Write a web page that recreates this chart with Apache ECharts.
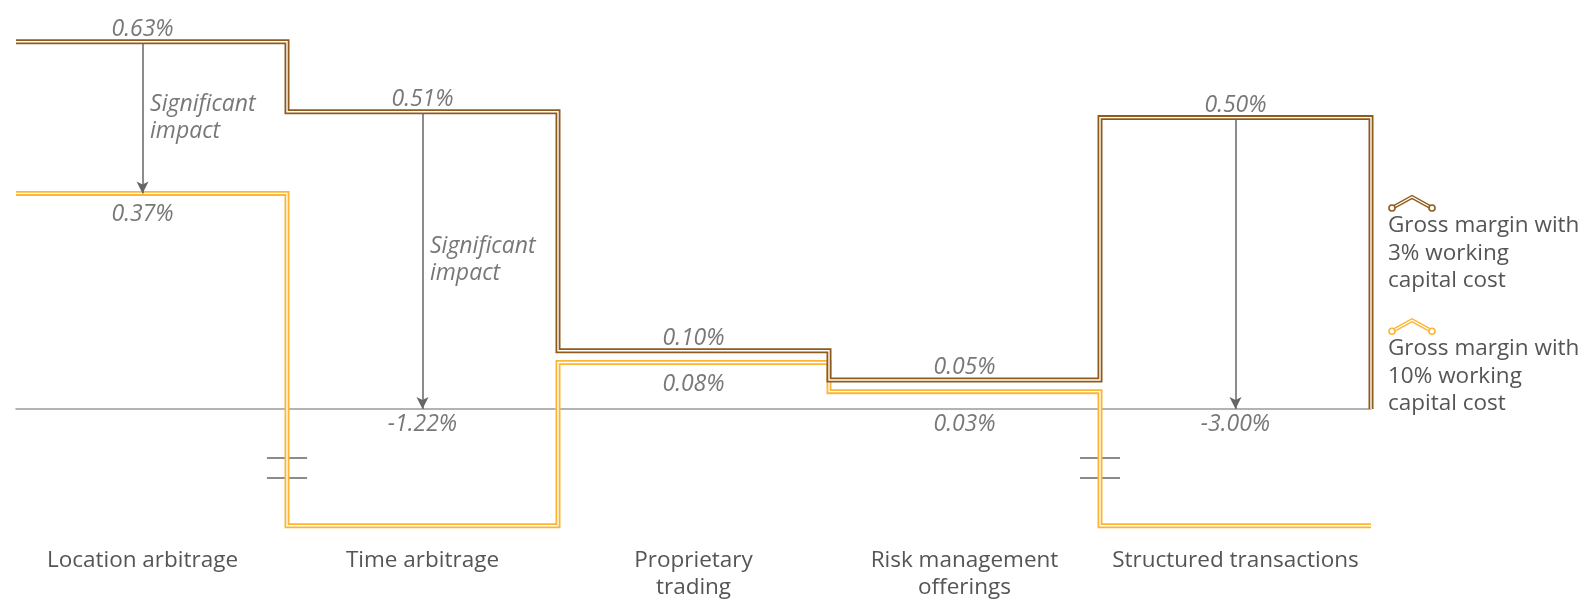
<!DOCTYPE html>
<html>
<head>
<meta charset="utf-8">
<script src="https://cdn.jsdelivr.net/npm/echarts@6/dist/echarts.min.js"></script>
<style>
html,body{margin:0;padding:0;background:#fff;}
#chart{width:1584px;height:599px;}
</style>
</head>
<body>
<div id="chart"></div>
<script>
// ---- data ----
const categories = ['Location arbitrage', 'Time arbitrage', 'Proprietary\ntrading', 'Risk management\nofferings', 'Structured transactions'];
const margin3 = [0.63, 0.51, 0.10, 0.05, 0.50];     // gross margin, 3% working capital cost (%)
const margin10 = [0.37, -1.22, 0.08, 0.03, -3.00];  // gross margin, 10% working capital cost (%)
const seriesNames = ['Gross margin with 3% working capital cost', 'Gross margin with 10% working capital cost'];
const legendLines = [['Gross margin with', '3% working', 'capital cost'], ['Gross margin with', '10% working', 'capital cost']];
const impactIdx = [0, 1, 4];
const impactNotes = ['Significant\nimpact', 'Significant\nimpact', ''];

// ---- style ----
const BROWN = '#8f5b1c';
const YELLOW = '#fdb533';
const TEXT = '#555555';
const FONT = "'Open Sans', 'Noto Sans', sans-serif";
const AXIS_FLOOR = -0.2;   // broken axis: values below are drawn at this level
const BREAK_Y = [-0.084, -0.118];
const BREAK_HALF = 0.074;
const FIRST_COL_SHIFT = -0.033; // first column annotations sit slightly left of centre

const clip = v => Math.max(v, AXIS_FLOOR);
const fmt = v => v.toFixed(2) + '%';
const colX = i => i + 0.5 + (i === 0 ? FIRST_COL_SHIFT : 0);

function stepData(vals, tail) {
  const pts = vals.map((v, i) => [i, clip(v)]);
  pts.push([vals.length, tail]);
  return pts;
}
const brownPts = stepData(margin3, 0);
const yellowPts = stepData(margin10, clip(margin10[margin10.length - 1]));

function lineSeries(name, data, color, width, z, extra) {
  return Object.assign({
    name: name, type: 'line', xAxisIndex: 1, yAxisIndex: 0,
    data: data, step: 'end', symbol: 'none', showSymbol: false, z: z,
    lineStyle: { color: color, width: width, join: 'miter', cap: 'butt' },
    itemStyle: { color: color },
    emphasis: { disabled: true }, silent: true
  }, extra || {});
}

// break marks where the 10% line falls below the axis break
const breakLines = [];
margin10.forEach((v, i) => {
  if (v < AXIS_FLOOR) {
    BREAK_Y.forEach(y => {
      breakLines.push([{ coord: [i - BREAK_HALF, y] }, { coord: [i + BREAK_HALF, y] }]);
    });
  }
});

// impact arrows
const arrows = impactIdx.map(i => [
  { coord: [colX(i), margin3[i]], symbol: 'none' },
  { coord: [colX(i), Math.max(margin10[i], 0)], symbol: 'arrow' }
]);

const labelBase = { color: TEXT, fontFamily: FONT, fontSize: 23, fontStyle: 'italic', lineHeight: 24 };

const brownLabels = margin3.map((v, i) => ({
  value: [colX(i), v],
  label: Object.assign({ show: true, position: 'top', distance: 0, formatter: fmt(v) }, labelBase)
}));
const yellowLabels = margin10.map((v, i) => {
  const nearAxis = v < 0.05;
  return {
    value: [colX(i), nearAxis ? 0 : v],
    label: Object.assign({ show: true, position: 'bottom', distance: nearAxis ? 3 : 9, formatter: fmt(v) }, labelBase)
  };
});
const noteLabels = impactIdx.map((i, k) => ({
  value: [colX(i), (margin3[i] + Math.max(margin10[i], 0)) / 2],
  label: Object.assign({ show: !!impactNotes[k], position: 'right', distance: 7, align: 'left', formatter: impactNotes[k] }, labelBase, { lineHeight: 27 })
}));

function iconUrl(color) {
  const svg = "<svg xmlns='http://www.w3.org/2000/svg' width='48' height='19'>" +
    "<polyline points='4,15 24,4 44,15' fill='none' stroke='" + color + "' stroke-width='3.8' stroke-linejoin='miter'/>" +
    "<polyline points='4,15 24,4 44,15' fill='none' stroke='#fff' stroke-width='1.2'/>" +
    "<circle cx='4' cy='15' r='3' fill='#fff' stroke='" + color + "' stroke-width='1.6'/>" +
    "<circle cx='44' cy='15' r='3' fill='#fff' stroke='" + color + "' stroke-width='1.6'/></svg>";
  return 'data:image/svg+xml;charset=utf-8,' + encodeURIComponent(svg);
}

function labelScatter(name, data) {
  return {
    name: name, type: 'scatter', xAxisIndex: 1, yAxisIndex: 0, data: data,
    symbolSize: 1, itemStyle: { color: 'rgba(0,0,0,0)' }, z: 10, silent: true,
    emphasis: { disabled: true }
  };
}

const categoryData = categories.map((c, i) => i === 0
  ? { value: c, textStyle: { padding: [0, 18, 0, 0] } }
  : c);

const chart = echarts.init(document.getElementById('chart'), null, { renderer: 'canvas' });
chart.setOption({
  animation: false,
  backgroundColor: '#fff',
  grid: { left: 16, right: 213, top: 1, bottom: 58.7, containLabel: false, outerBoundsMode: 'none' },
  xAxis: [
    {
      type: 'category', data: categoryData, boundaryGap: true, position: 'bottom',
      axisLine: { show: false, onZero: false }, axisTick: { show: false }, splitLine: { show: false },
      axisLabel: { color: TEXT, fontFamily: FONT, fontSize: 22.5, lineHeight: 27, margin: 7, interval: 0 }
    },
    {
      type: 'value', min: 0, max: 5, position: 'bottom',
      axisLine: { show: true, onZero: true, lineStyle: { color: '#9b9b9b', width: 1.5 } },
      axisTick: { show: false }, axisLabel: { show: false }, splitLine: { show: false }
    }
  ],
  yAxis: { type: 'value', min: -0.225, max: 0.7, show: false, splitLine: { show: false } },
  legend: {
    orient: 'vertical', left: 1383, top: 191, padding: 0, itemGap: 22,
    itemWidth: 0, itemHeight: 0, icon: 'none', selectedMode: false,
    data: seriesNames,
    formatter: name => {
      const k = seriesNames.indexOf(name);
      return '{ic' + k + '| }\n' + legendLines[k].map(l => '{t|' + l + '}').join('\n');
    },
    textStyle: {
      color: TEXT, fontFamily: FONT, fontSize: 22.5,
      rich: {
        ic0: { width: 48, height: 19, lineHeight: 19, backgroundColor: { image: iconUrl(BROWN) } },
        ic1: { width: 48, height: 19, lineHeight: 19, backgroundColor: { image: iconUrl(YELLOW) } },
        t: { color: TEXT, fontFamily: FONT, fontSize: 22.5, lineHeight: 27.5 }
      }
    }
  },
  series: [
    lineSeries(seriesNames[1], yellowPts, YELLOW, 5, 2, {
      markLine: {
        silent: true, symbol: 'none', animation: false, z: 2,
        lineStyle: { color: '#666', width: 1.5, type: 'solid' },
        label: { show: false }, emphasis: { disabled: true },
        data: breakLines
      }
    }),
    lineSeries(seriesNames[1], yellowPts, '#ffffff', 1.4, 3),
    lineSeries(seriesNames[0], brownPts, BROWN, 5, 4, {
      markLine: {
        silent: true, animation: false, symbolSize: [9, 12],
        lineStyle: { color: '#666', width: 1.5, type: 'solid' },
        itemStyle: { color: '#666' },
        label: { show: false }, emphasis: { disabled: true },
        data: arrows
      }
    }),
    lineSeries(seriesNames[0], brownPts, '#ffffff', 1.4, 5),
    labelScatter('labels3', brownLabels),
    labelScatter('labels10', yellowLabels),
    labelScatter('notes', noteLabels)
  ]
});
</script>
</body>
</html>
